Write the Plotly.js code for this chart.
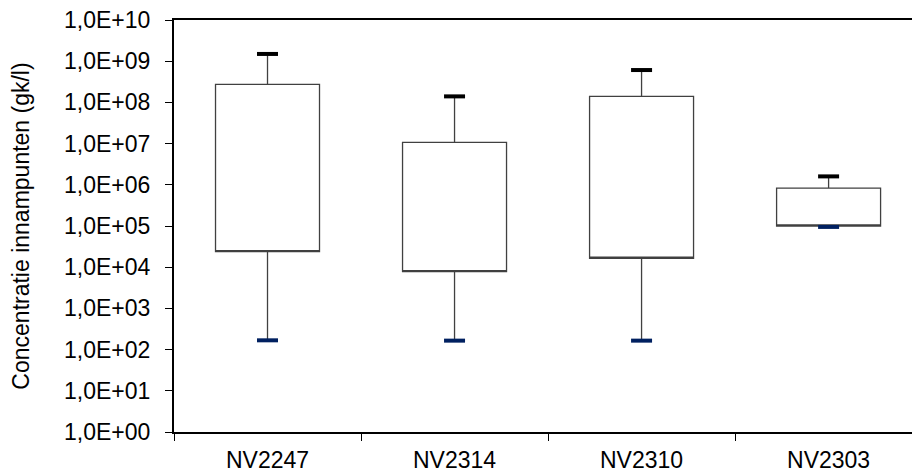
<!DOCTYPE html>
<html>
<head>
<meta charset="utf-8">
<script src="https://cdn.plot.ly/plotly-3.0.1.min.js"></script>
<style>html,body{margin:0;padding:0;background:#fff;}#chart{width:912px;height:473px;}</style>
</head>
<body>
<div id="chart"></div>
<script>
const categories = ['NV2247', 'NV2314', 'NV2310', 'NV2303'];
const minVals = [168, 165, 165, 9.5e4];
const q1Vals = [2.4e4, 7.8e3, 1.65e4, 1.0e5];
const q3Vals = [2.75e8, 1.07e7, 1.4e8, 8.3e5];
const maxVals = [1.5e9, 1.4e8, 6.1e8, 1.6e6];
const yTickVals = [1, 10, 100, 1e3, 1e4, 1e5, 1e6, 1e7, 1e8, 1e9, 1e10];
const yTickText = ['1,0E+00', '1,0E+01', '1,0E+02', '1,0E+03', '1,0E+04', '1,0E+05', '1,0E+06', '1,0E+07', '1,0E+08', '1,0E+09', '1,0E+10'];

const font = 'Liberation Sans, Arial, sans-serif';

const boxTrace = {
  type: 'box',
  x: categories,
  q1: q1Vals,
  median: q1Vals,
  q3: q3Vals,
  lowerfence: minVals,
  upperfence: maxVals,
  boxpoints: false,
  whiskerwidth: 0,
  width: 0.556,
  fillcolor: '#ffffff',
  line: {color: '#404040', width: 1.3},
  hoverinfo: 'skip',
  showlegend: false
};
const maxCaps = {
  type: 'scatter', mode: 'markers', x: categories, y: maxVals,
  marker: {symbol: 'line-ew', size: 15, line: {color: '#000000', width: 4}},
  showlegend: false, hoverinfo: 'skip'
};
const minCaps = {
  type: 'scatter', mode: 'markers', x: categories, y: minVals,
  marker: {symbol: 'line-ew', size: 15, line: {color: '#002060', width: 4}},
  showlegend: false, hoverinfo: 'skip'
};

const layout = {
  width: 912, height: 473,
  margin: {l: 174, r: 0, t: 20, b: 41},
  paper_bgcolor: '#ffffff', plot_bgcolor: '#ffffff',
  font: {family: font, color: '#000000'},
  xaxis: {
    type: 'category',
    range: [-0.5, 3.446],
    showline: true, linecolor: '#000000', linewidth: 2, mirror: true,
    ticks: 'outside', tickson: 'boundaries', ticklen: 7, tickcolor: '#000000', tickwidth: 1,
    ticklabelstandoff: 6,
    showgrid: false, zeroline: false,
    tickfont: {family: font, size: 23, color: '#000000'}
  },
  yaxis: {
    type: 'log',
    range: [0, 10],
    tickvals: yTickVals, ticktext: yTickText,
    showline: true, linecolor: '#000000', linewidth: 2,
    ticks: 'outside', ticklen: 7, tickcolor: '#000000', tickwidth: 1,
    ticklabelstandoff: 10,
    showgrid: false, zeroline: false,
    tickfont: {family: font, size: 23, color: '#000000'},
    title: {text: 'Concentratie innampunten (gk/l)', font: {family: font, size: 23, color: '#000000'}, standoff: 28}
  }
};

Plotly.newPlot('chart', [boxTrace, maxCaps, minCaps], layout, {displayModeBar: false, staticPlot: true});
</script>
</body>
</html>
